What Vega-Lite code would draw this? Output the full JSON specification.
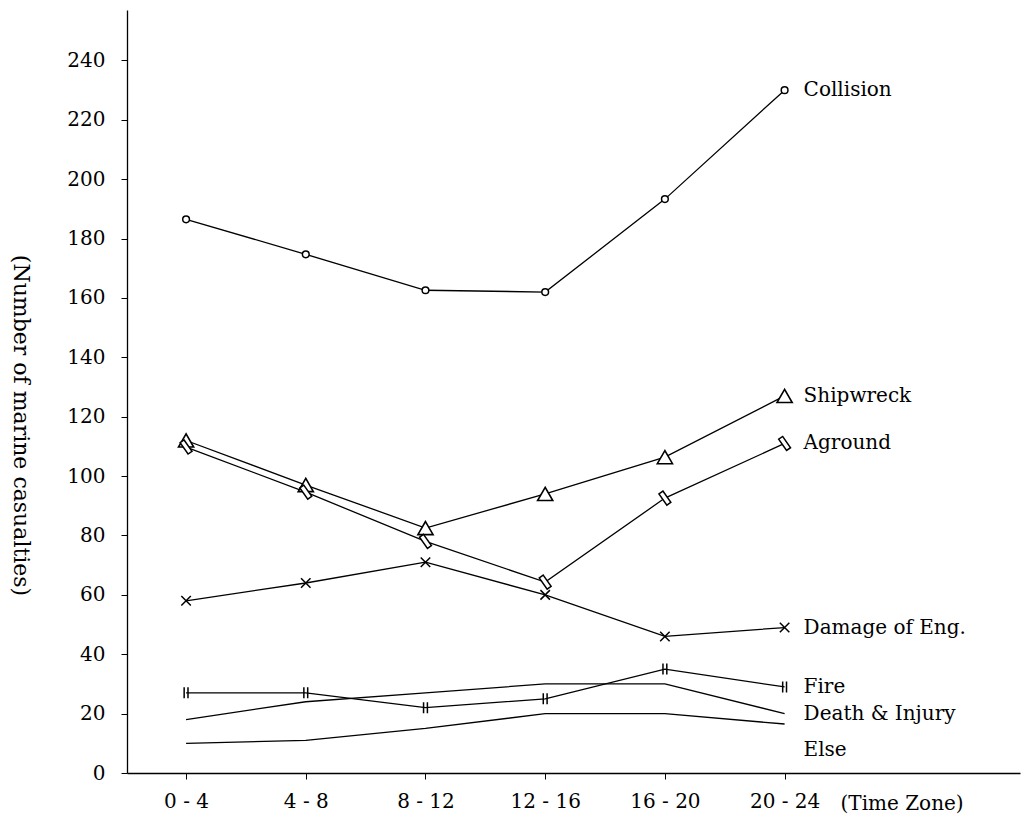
{
  "$schema": "https://vega.github.io/schema/vega-lite/v6.json",
  "autosize": "none",
  "padding": {"left": 127, "top": 10, "right": 5, "bottom": 46},
  "width": 893,
  "height": 763,
  "background": "white",
  "config": {"view": {"stroke": null}, "font": "DejaVu Serif"},
  "data": {
    "values": [
      {"zone": "0 - 4", "type": "Collision", "count": 186.5},
      {"zone": "4 - 8", "type": "Collision", "count": 174.7},
      {"zone": "8 - 12", "type": "Collision", "count": 162.6},
      {"zone": "12 - 16", "type": "Collision", "count": 162},
      {"zone": "16 - 20", "type": "Collision", "count": 193.3},
      {"zone": "20 - 24", "type": "Collision", "count": 230},
      {"zone": "0 - 4", "type": "Shipwreck", "count": 112},
      {"zone": "4 - 8", "type": "Shipwreck", "count": 97},
      {"zone": "8 - 12", "type": "Shipwreck", "count": 82.5},
      {"zone": "12 - 16", "type": "Shipwreck", "count": 94},
      {"zone": "16 - 20", "type": "Shipwreck", "count": 106.4},
      {"zone": "20 - 24", "type": "Shipwreck", "count": 127},
      {"zone": "0 - 4", "type": "Aground", "count": 109.8},
      {"zone": "4 - 8", "type": "Aground", "count": 94.6},
      {"zone": "8 - 12", "type": "Aground", "count": 78},
      {"zone": "12 - 16", "type": "Aground", "count": 64.3},
      {"zone": "16 - 20", "type": "Aground", "count": 92.6},
      {"zone": "20 - 24", "type": "Aground", "count": 111},
      {"zone": "0 - 4", "type": "Damage of Eng.", "count": 58},
      {"zone": "4 - 8", "type": "Damage of Eng.", "count": 64},
      {"zone": "8 - 12", "type": "Damage of Eng.", "count": 71},
      {"zone": "12 - 16", "type": "Damage of Eng.", "count": 60},
      {"zone": "16 - 20", "type": "Damage of Eng.", "count": 46},
      {"zone": "20 - 24", "type": "Damage of Eng.", "count": 49},
      {"zone": "0 - 4", "type": "Fire", "count": 27},
      {"zone": "4 - 8", "type": "Fire", "count": 27},
      {"zone": "8 - 12", "type": "Fire", "count": 22},
      {"zone": "12 - 16", "type": "Fire", "count": 25},
      {"zone": "16 - 20", "type": "Fire", "count": 35},
      {"zone": "20 - 24", "type": "Fire", "count": 29},
      {"zone": "0 - 4", "type": "Death & Injury", "count": 18},
      {"zone": "4 - 8", "type": "Death & Injury", "count": 24},
      {"zone": "8 - 12", "type": "Death & Injury", "count": 27},
      {"zone": "12 - 16", "type": "Death & Injury", "count": 30},
      {"zone": "16 - 20", "type": "Death & Injury", "count": 30},
      {"zone": "20 - 24", "type": "Death & Injury", "count": 20},
      {"zone": "0 - 4", "type": "Else", "count": 10},
      {"zone": "4 - 8", "type": "Else", "count": 11},
      {"zone": "8 - 12", "type": "Else", "count": 15},
      {"zone": "12 - 16", "type": "Else", "count": 20},
      {"zone": "16 - 20", "type": "Else", "count": 20},
      {"zone": "20 - 24", "type": "Else", "count": 16.5}
    ]
  },
  "encoding": {
    "x": {
      "field": "zone",
      "type": "ordinal",
      "scale": {
        "type": "point",
        "domain": ["0 - 4", "4 - 8", "8 - 12", "12 - 16", "16 - 20", "20 - 24", "end"],
        "padding": 0.73,
        "align": 0.338
      },
      "axis": {
        "values": ["0 - 4", "4 - 8", "8 - 12", "12 - 16", "16 - 20", "20 - 24"],
        "labelAngle": 0,
        "labelFontSize": 20,
        "labelColor": "black",
        "labelFont": "DejaVu Serif",
        "labelPadding": 12,
        "tickSize": 6,
        "tickColor": "black",
        "domainColor": "black",
        "domainWidth": 1.3,
        "grid": false,
        "title": "(Time Zone)",
        "titleFont": "DejaVu Serif",
        "titleFontSize": 20,
        "titleFontWeight": "normal",
        "titleColor": "black",
        "titleX": 713,
        "titleY": 30,
        "titleAlign": "left",
        "titleBaseline": "middle"
      }
    },
    "y": {
      "field": "count",
      "type": "quantitative",
      "scale": {"domain": [0, 257], "nice": false, "zero": true},
      "axis": {
        "values": [0, 20, 40, 60, 80, 100, 120, 140, 160, 180, 200, 220, 240],
        "labelFontSize": 20,
        "labelColor": "black",
        "labelFont": "DejaVu Serif",
        "labelPadding": 16,
        "tickSize": 6,
        "tickColor": "black",
        "domainColor": "black",
        "domainWidth": 1.3,
        "grid": false,
        "title": "(Number of marine casualties)",
        "titleFont": "DejaVu Serif",
        "titleFontSize": 22,
        "titleFontWeight": "normal",
        "titleColor": "black",
        "titleAngle": 90,
        "titleX": -107,
        "titleY": 415,
        "titleAlign": "center",
        "titleBaseline": "middle"
      }
    }
  },
  "layer": [
    {
      "mark": {"type": "line", "color": "black", "strokeWidth": 1.3},
      "encoding": {"detail": {"field": "type"}}
    },
    {
      "transform": [{"filter": "datum.type == 'Collision'"}],
      "mark": {"type": "point", "shape": "circle", "size": 45, "filled": true, "fill": "white", "stroke": "black", "strokeWidth": 1.5, "opacity": 1}
    },
    {
      "transform": [{"filter": "datum.type == 'Shipwreck'"}],
      "mark": {"type": "point", "shape": "triangle-up", "size": 230, "filled": true, "fill": "white", "stroke": "black", "strokeWidth": 1.6, "opacity": 1}
    },
    {
      "transform": [{"filter": "datum.type == 'Aground'"}],
      "mark": {"type": "point", "shape": "M-0.287,-1.02L0.861,0.618L0.287,1.02L-0.861,-0.618Z", "size": 190, "filled": true, "fill": "white", "stroke": "black", "strokeWidth": 1.5, "opacity": 1}
    },
    {
      "transform": [{"filter": "datum.type == 'Damage of Eng.'"}],
      "mark": {"type": "point", "shape": "M-1,-1L1,1M1,-1L-1,1", "size": 90, "filled": false, "stroke": "black", "strokeWidth": 1.5, "opacity": 1}
    },
    {
      "transform": [{"filter": "datum.type == 'Fire'"}],
      "mark": {"type": "point", "shape": "M-0.35,-1L-0.35,1M0.35,-1L0.35,1", "size": 120, "filled": false, "stroke": "black", "strokeWidth": 1.5, "opacity": 1}
    },
    {
      "transform": [{"filter": "datum.zone == '20 - 24' && datum.type != 'Else'"}],
      "mark": {"type": "text", "align": "left", "baseline": "middle", "dx": 19, "fontSize": 20, "font": "DejaVu Serif", "color": "black"},
      "encoding": {"text": {"field": "type"}}
    },
    {
      "transform": [{"filter": "datum.zone == '20 - 24' && datum.type == 'Else'"}],
      "mark": {"type": "text", "align": "left", "baseline": "middle", "dx": 19, "dy": 26, "fontSize": 20, "font": "DejaVu Serif", "color": "black"},
      "encoding": {"text": {"field": "type"}}
    }
  ]
}
